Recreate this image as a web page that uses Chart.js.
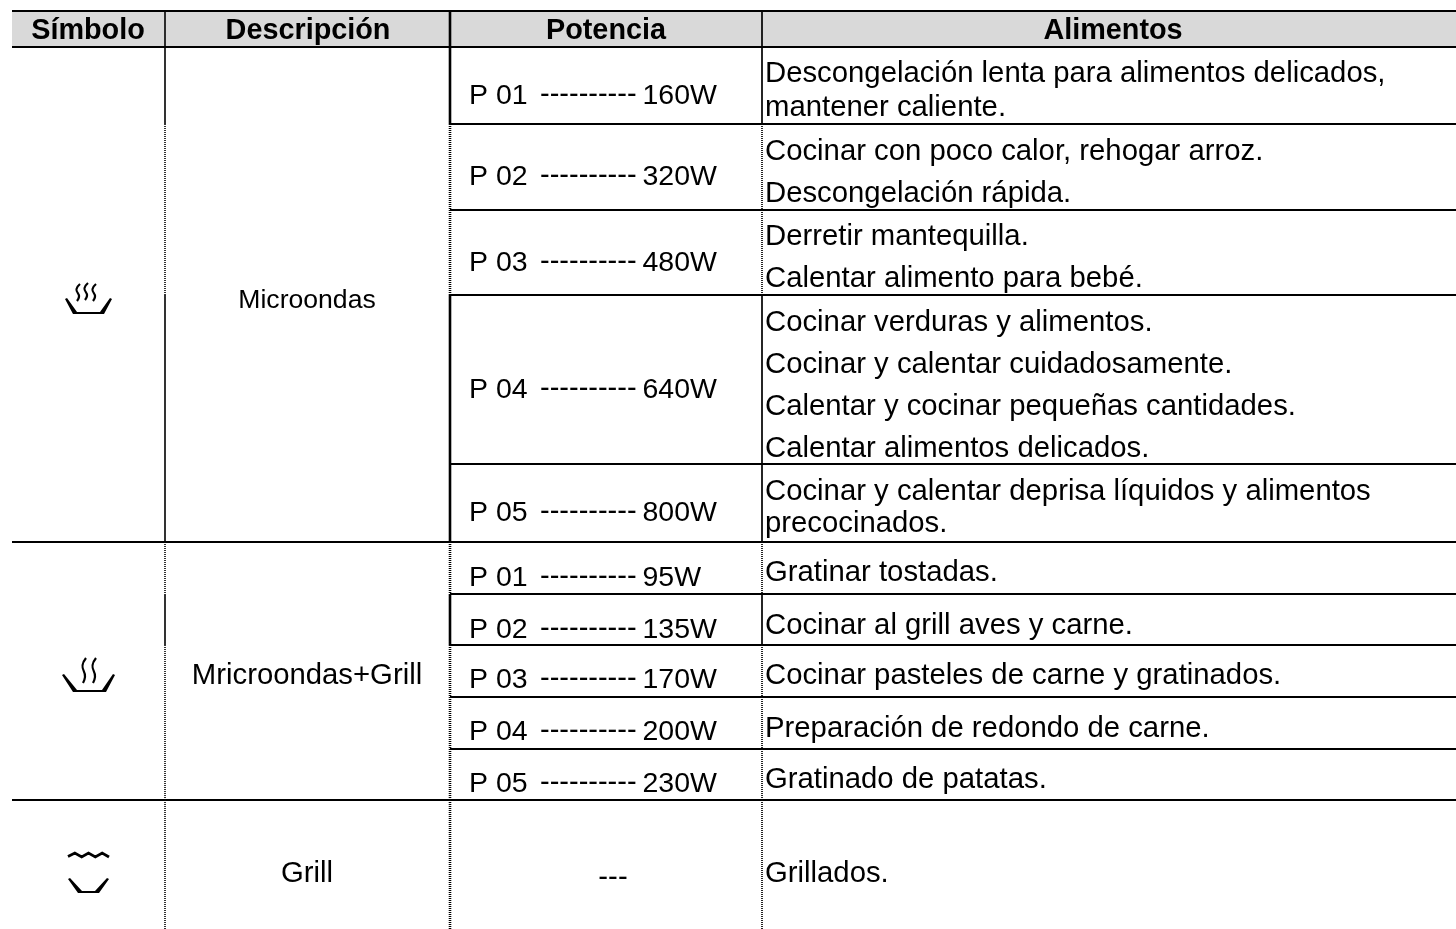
<!DOCTYPE html>
<html lang="es">
<head>
<meta charset="utf-8">
<title>Tabla de potencias</title>
<script src="https://cdn.jsdelivr.net/npm/chart.js@4"></script>
<style>
    html, body { margin: 0; padding: 0; background: #fff; overflow: hidden; }
    canvas { display: block; }
</style>
</head>
<body>
<canvas id="tableChart" width="1456" height="929"></canvas>
<script>
// Table content
const headers = ['Símbolo', 'Descripción', 'Potencia', 'Alimentos'];
const descriptions = ['Microondas', 'Mricroondas+Grill', 'Grill'];
const powerLevels = ['P 01', 'P 02', 'P 03', 'P 04', 'P 05', 'P 01', 'P 02', 'P 03', 'P 04', 'P 05'];
const powerWatts = ['160W', '320W', '480W', '640W', '800W', '95W', '135W', '170W', '200W', '230W'];
const powerDashes = '----------';
const noPower = '---';
const foodLines = [
    'Descongelación lenta para alimentos delicados,',
    'mantener caliente.',
    'Cocinar con poco calor, rehogar arroz.',
    'Descongelación rápida.',
    'Derretir mantequilla.',
    'Calentar alimento para bebé.',
    'Cocinar verduras y alimentos.',
    'Cocinar y calentar cuidadosamente.',
    'Calentar y cocinar pequeñas cantidades.',
    'Calentar alimentos delicados.',
    'Cocinar y calentar deprisa líquidos y alimentos',
    'precocinados.',
    'Gratinar tostadas.',
    'Cocinar al grill aves y carne.',
    'Cocinar pasteles de carne y gratinados.',
    'Preparación de redondo de carne.',
    'Gratinado de patatas.',
    'Grillados.'
];

// Layout, all in picture units
const tableLeft = 12;
const tableRight = 1456;
const tableTop = 11;
const headerBottom = 47;
const tableBottom = 929;
const columnEdges = [165, 450, 762];
const columnWidths = [1.6, 2.6, 1.7];
const rowEdges = [124, 210, 295, 464, 542, 594, 645, 697, 749, 800];
const fullRowEdges = [542, 800];
const solidRows = [0, 3, 4, 6];
const headerCentres = [88, 308, 606, 1113];
const descriptionCentre = 307;
const descriptionSizes = [26.6, 29.3, 29.3];
const descriptionBaselines = [308, 684, 882];
const powerBaselines = [104, 185, 271, 398, 521, 586, 638, 688, 740, 792];
const foodBaselines = [82, 116, 160, 202, 245, 287, 331, 373, 415, 457, 500, 532, 581, 634, 684, 737, 788, 882];
const fontFamily = '"Liberation Sans", Arial, sans-serif';

function lineSet(x1, y1, x2, y2, width, dash) {
    return {
        data: [{ x: x1, y: y1 }, { x: x2, y: y2 }],
        showLine: true,
        pointRadius: 0,
        borderColor: '#000',
        borderWidth: width,
        borderDash: dash || [],
        borderCapStyle: 'butt'
    };
}

// Grid lines as datasets
const gridSets = [];
gridSets.push(lineSet(tableLeft, tableTop, tableRight, tableTop, 2));
gridSets.push(lineSet(tableLeft, headerBottom, tableRight, headerBottom, 2));
rowEdges.forEach(y => {
    const start = fullRowEdges.includes(y) ? tableLeft : columnEdges[1];
    gridSets.push(lineSet(start, y, tableRight, y, 2));
});
const rowTops = [headerBottom].concat(rowEdges);
const rowBottoms = rowEdges.concat([tableBottom]);
columnEdges.forEach((x, c) => {
    gridSets.push(lineSet(x, tableTop, x, headerBottom, columnWidths[c]));
    rowTops.forEach((top, r) => {
        const solid = solidRows.includes(r);
        gridSets.push(lineSet(x, top, x, rowBottoms[r], columnWidths[c], solid ? [] : [1, 1]));
    });
});

// Cooking symbols
function bowl(ctx, left, right, innerLeft, innerRight, top, bottom) {
    ctx.fillStyle = '#000';
    ctx.beginPath();
    ctx.moveTo(left, top + 1);
    ctx.lineTo(left + 2, top);
    ctx.lineTo(innerLeft + 4, bottom - 2);
    ctx.lineTo(innerRight - 4, bottom - 2);
    ctx.lineTo(right - 2, top);
    ctx.lineTo(right, top + 1);
    ctx.lineTo(innerRight, bottom);
    ctx.lineTo(innerLeft, bottom);
    ctx.closePath();
    ctx.fill();
}

function steam(ctx, x, top, bottom) {
    const h = bottom - top;
    ctx.strokeStyle = '#000';
    ctx.lineWidth = 2.2;
    ctx.beginPath();
    ctx.moveTo(x + 2, top);
    ctx.bezierCurveTo(x - 3, top + h * 0.25, x - 2, top + h * 0.4, x, top + h * 0.55);
    ctx.bezierCurveTo(x + 2, top + h * 0.7, x + 1, top + h * 0.85, x - 1, bottom);
    ctx.stroke();
}

function waves(ctx, left, right, y) {
    const step = (right - left) / 6;
    ctx.strokeStyle = '#000';
    ctx.lineWidth = 2.8;
    ctx.beginPath();
    ctx.moveTo(left, y + 1.5);
    for (let i = 1; i <= 6; i++) {
        ctx.lineTo(left + step * i, i % 2 ? y - 2 : y + 2);
    }
    ctx.stroke();
}

const tablePlugin = {
    id: 'tablePlugin',
    beforeDatasetsDraw(chart) {
        const { ctx, scales: { x, y } } = chart;
        ctx.save();
        ctx.fillStyle = '#d9d9d9';
        ctx.fillRect(x.getPixelForValue(tableLeft), y.getPixelForValue(tableTop),
            x.getPixelForValue(tableRight) - x.getPixelForValue(tableLeft),
            y.getPixelForValue(headerBottom) - y.getPixelForValue(tableTop));
        ctx.restore();
    },
    afterDatasetsDraw(chart) {
        const { ctx, scales: { x, y } } = chart;
        const px = v => x.getPixelForValue(v);
        const py = v => y.getPixelForValue(v);
        ctx.save();
        ctx.fillStyle = '#000';
        ctx.textBaseline = 'alphabetic';

        ctx.font = 'bold 28.8px ' + fontFamily;
        ctx.textAlign = 'center';
        headers.forEach((h, i) => ctx.fillText(h, px(headerCentres[i]), py(39)));

        descriptions.forEach((d, i) => {
            ctx.font = descriptionSizes[i] + 'px ' + fontFamily;
            ctx.fillText(d, px(descriptionCentre), py(descriptionBaselines[i]));
        });
        ctx.font = '29.3px ' + fontFamily;
        ctx.fillText(noPower, px(613), py(886));

        ctx.textAlign = 'left';
        powerLevels.forEach((p, i) => {
            ctx.font = '28.5px ' + fontFamily;
            ctx.fillText(p, px(469), py(powerBaselines[i]));
            ctx.fillText(powerWatts[i], px(642.5), py(powerBaselines[i]));
            ctx.font = '29px ' + fontFamily;
            ctx.fillText(powerDashes, px(540), py(powerBaselines[i] - 1));
        });

        ctx.font = '29.3px ' + fontFamily;
        foodLines.forEach((t, i) => ctx.fillText(t, px(765), py(foodBaselines[i])));

        bowl(ctx, px(65), px(112), px(73), px(104), py(298), py(314));
        steam(ctx, px(78), py(284), py(301));
        steam(ctx, px(86), py(283), py(300));
        steam(ctx, px(94), py(284), py(301));

        bowl(ctx, px(62), px(115), px(73), px(106), py(674), py(692));
        steam(ctx, px(84), py(658), py(683));
        steam(ctx, px(94), py(658), py(683));

        waves(ctx, px(68), px(109), py(855));
        bowl(ctx, px(68), px(109), px(78), px(99), py(878), py(893));
        ctx.restore();
    }
};

const tableChart = new Chart(document.getElementById('tableChart').getContext('2d'), {
    type: 'scatter',
    data: { datasets: gridSets },
    options: {
        responsive: false,
        animation: false,
        layout: { padding: 0 },
        plugins: { legend: { display: false }, tooltip: { enabled: false } },
        scales: {
            x: { type: 'linear', min: 0, max: 1456, display: false },
            y: { type: 'linear', min: 0, max: 929, reverse: true, display: false }
        }
    },
    plugins: [tablePlugin]
});
</script>
</body>
</html>
